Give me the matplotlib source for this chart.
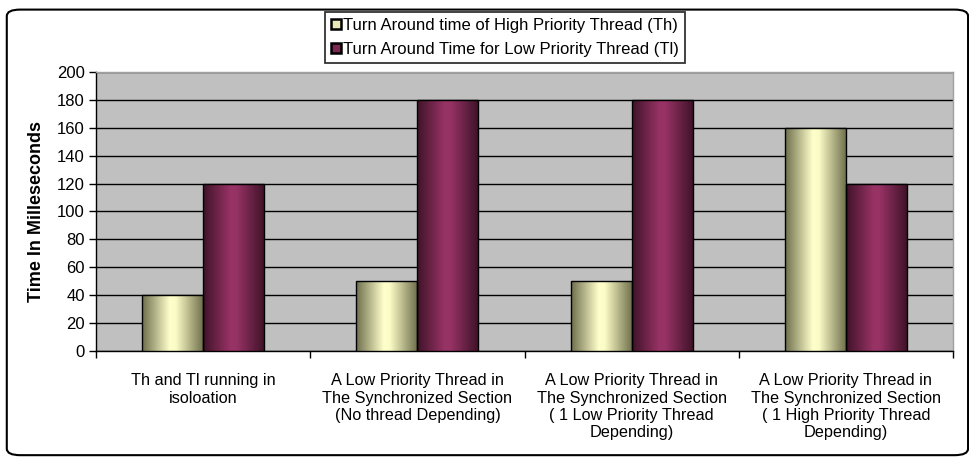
import numpy as np
import matplotlib
matplotlib.use("Agg")
import matplotlib.pyplot as plt
from matplotlib.colors import LinearSegmentedColormap
from matplotlib.patches import FancyBboxPatch

plt.rcParams["font.family"] = ["Liberation Sans", "DejaVu Sans"]

# data
categories = [
    "Th and Tl running in\nisoloation",
    "A Low Priority Thread in\nThe Synchronized Section\n(No thread Depending)",
    "A Low Priority Thread in\nThe Synchronized Section\n( 1 Low Priority Thread\nDepending)",
    "A Low Priority Thread in\nThe Synchronized Section\n( 1 High Priority Thread\nDepending)",
]
high_priority = [40, 50, 50, 160]
low_priority = [120, 180, 180, 120]
series_names = [
    "Turn Around time of High Priority Thread (Th)",
    "Turn Around Time for Low Priority Thread (Tl)",
]
y_ticks = [0, 20, 40, 60, 80, 100, 120, 140, 160, 180, 200]

# gradient colours for the cylinder look
yellow_cmap = LinearSegmentedColormap.from_list(
    "yel", [(0, "#6e6e4c"), (0.45, "#ffffcc"), (0.55, "#fbfbc6"), (1, "#6c6c4a")])
maroon_cmap = LinearSegmentedColormap.from_list(
    "mar", [(0, "#3f1328"), (0.45, "#993366"), (0.55, "#953264"), (1, "#3d1227")])

fig = plt.figure(figsize=(9.7, 4.57), dpi=100)
ax = fig.add_axes([0.099, 0.232, 0.8835, 0.6105])
ax.set_facecolor("#c0c0c0")

x = np.arange(len(categories))
w = 0.285

bars_h = ax.bar(x - w / 2, high_priority, w, color="#ffffcc", edgecolor="black",
                linewidth=1, zorder=3, label=series_names[0])
bars_l = ax.bar(x + w / 2, low_priority, w, color="#993366", edgecolor="black",
                linewidth=1, zorder=3, label=series_names[1])

grad = np.linspace(0, 1, 256).reshape(1, -1)
for bars, cmap in [(bars_h, yellow_cmap), (bars_l, maroon_cmap)]:
    for b in bars:
        bx, by = b.get_x(), b.get_y()
        im = ax.imshow(grad, cmap=cmap, aspect="auto", zorder=3.5,
                       extent=(bx, bx + b.get_width(), by, by + b.get_height()))
        im.set_clip_path(b)
        b.set_facecolor("none")
        b.set_zorder(4)

ax.set_xlim(-0.5, len(categories) - 0.5)
ax.set_ylim(0, 200)
ax.set_yticks(y_ticks)
ax.yaxis.grid(True, color="black", linewidth=1)
ax.set_axisbelow(True)

ax.set_xticks(np.arange(len(categories) + 1) - 0.5)
ax.set_xticklabels([])
ax.set_xticks(x, minor=True)
ax.set_xticklabels(categories, minor=True, fontsize=11.7, linespacing=1.2)
ax.tick_params(axis="x", which="minor", length=0, pad=16)
ax.tick_params(axis="x", which="major", length=5, width=1, direction="out")
ax.tick_params(axis="y", length=5, width=1, labelsize=12, pad=3)

for s in ["left", "bottom"]:
    ax.spines[s].set_color("black")
    ax.spines[s].set_linewidth(1)
for s in ["top", "right"]:
    ax.spines[s].set_color("#a0a0a0")
    ax.spines[s].set_linewidth(1)

ax.set_ylabel("Time In Milleseconds", fontsize=13, fontweight="bold", labelpad=9)

leg = fig.legend(handles=[bars_h, bars_l], loc="upper center",
                 bbox_to_anchor=(0.5205, 0.974), fontsize=12, frameon=True,
                 fancybox=False, edgecolor="black", handlelength=0.6,
                 handleheight=0.6, handletextpad=0.15, borderpad=0.35,
                 labelspacing=0.55, borderaxespad=0)
leg.get_frame().set_linewidth(1.3)
hcols = ["#e8e8b8", "#7a2850"]
for h, c in zip(leg.legend_handles, hcols):
    h.set_facecolor(c)
    h.set_edgecolor("black")
    h.set_linewidth(1.8)

border = FancyBboxPatch((0.007, 0.004), 0.991, 0.975, transform=fig.transFigure,
                        boxstyle="round,pad=0,rounding_size=0.014",
                        facecolor="none", edgecolor="black", linewidth=1.5,
                        zorder=-1)
fig.patches.append(border)

fig.savefig("out.png", dpi=100)
